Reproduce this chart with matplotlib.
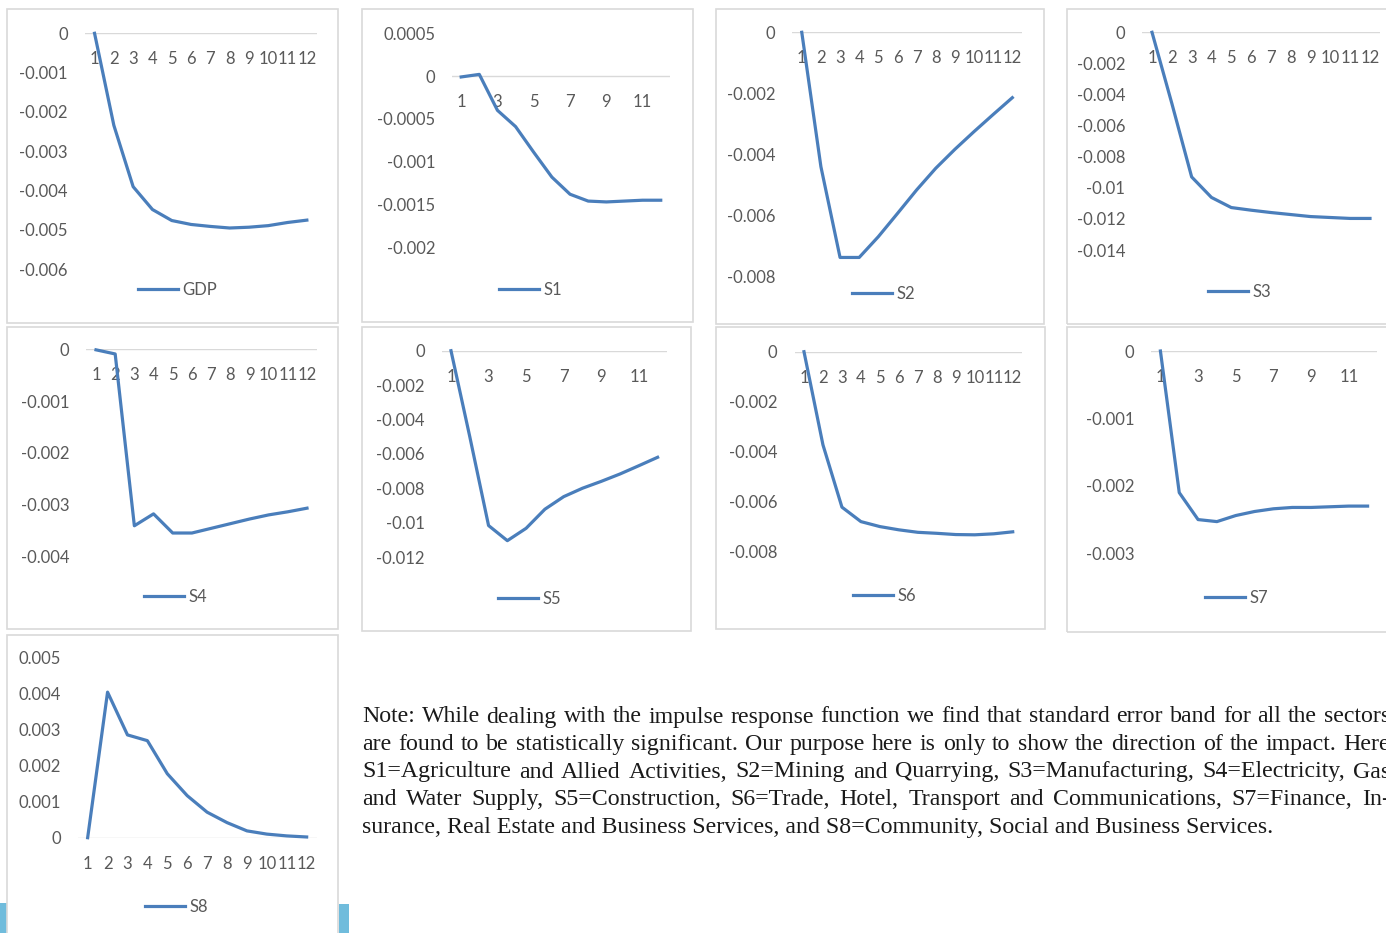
import numpy as np
import matplotlib
matplotlib.use('Agg')
import matplotlib.pyplot as plt
from matplotlib.patches import Rectangle

W, H = 1386, 933
plt.rcParams['font.family'] = ['Lato', 'DejaVu Sans']

# impulse responses, periods 1..12
periods = np.arange(1, 13)
gdp = [0, -0.00234, -0.0039, -0.00448, -0.00476, -0.00486, -0.00491, -0.00495, -0.00493, -0.00489, -0.00481, -0.00475]
s1 = [-0.00001, 0.00002, -0.0004, -0.00059, -0.00089, -0.00118, -0.00138, -0.00146, -0.00147, -0.00146, -0.00145, -0.00145]
s2 = [0, -0.0044, -0.00737, -0.00737, -0.00669, -0.00593, -0.00516, -0.00445, -0.00383, -0.00325, -0.00269, -0.00214]
s3 = [0, -0.00457, -0.0093, -0.01062, -0.01127, -0.01144, -0.01159, -0.01172, -0.01185, -0.01191, -0.01197, -0.01197]
s4 = [-0.00001, -0.00009, -0.00341, -0.00318, -0.00355, -0.00355, -0.00346, -0.00337, -0.00328, -0.0032, -0.00314, -0.00307]
s5 = [0, -0.005, -0.01017, -0.01105, -0.01033, -0.00922, -0.00849, -0.008, -0.0076, -0.00717, -0.00669, -0.0062]
s6 = [0, -0.00374, -0.00624, -0.00682, -0.00702, -0.00715, -0.00725, -0.00729, -0.00734, -0.00735, -0.00731, -0.00723]
s7 = [0, -0.0021, -0.0025, -0.00253, -0.00244, -0.00238, -0.00234, -0.00232, -0.00232, -0.00231, -0.0023, -0.0023]
s8 = [0, 0.00405, 0.00286, 0.0027, 0.00178, 0.00117, 0.00071, 0.00042, 0.00019, 0.0001, 0.00005, 0.00002]

note_lines = [
    "Note: While dealing with the impulse response function we find that standard error band for all the sectors",
    "are found to be statistically significant. Our purpose here is only to show the direction of the impact. Here",
    "S1=Agriculture and Allied Activities, S2=Mining and Quarrying, S3=Manufacturing, S4=Electricity, Gas",
    "and Water Supply, S5=Construction, S6=Trade, Hotel, Transport and Communications, S7=Finance, In-",
    "surance, Real Estate and Business Services, and S8=Community, Social and Business Services.",
]

BLUE = '#4a7ebb'
GREY_TXT = '#595959'
GRID = '#d9d9d9'

# label, series, ylim, ystep, xstep, chart box, plot area, legend anchor (all in px)
panels = [
    ('GDP', gdp, (-0.006, 0), 0.001, 1, (7, 9, 338, 323), (84.9, 33.3, 316.5, 269.3), (138, 290)),
    ('S1', s1, (-0.002, 0.0005), 0.0005, 2, (362, 9, 693, 322), (452.1, 33.3, 669.8, 247.3), (499, 290)),
    ('S2', s2, (-0.008, 0), 0.002, 1, (716, 9, 1044, 324), (792.2, 32.3, 1021.9, 276.7), (852, 294)),
    ('S3', s3, (-0.014, 0), 0.002, 1, (1067, 9, 1400, 324), (1142.1, 32.3, 1379.9, 250), (1208, 292)),
    ('S4', s4, (-0.004, 0), 0.001, 1, (7, 327, 338, 629), (86.4, 349.3, 316.6, 556.3), (144, 597)),
    ('S5', s5, (-0.012, 0), 0.002, 2, (362, 327, 691, 631), (441.6, 350.7, 667, 557), (498, 599)),
    ('S6', s6, (-0.008, 0), 0.002, 1, (716, 327, 1045, 629), (794.5, 351.7, 1022.2, 551), (853, 596)),
    ('S7', s7, (-0.003, 0), 0.001, 2, (1067, 327, 1400, 632), (1151, 351, 1377, 553.3), (1205, 598)),
    ('S8', s8, (0, 0.005), 0.001, 1, (7, 635, 338, 950), (77.7, 658, 316.6, 837.7), (145, 907)),
]

fig = plt.figure(figsize=(W / 100, H / 100), dpi=100)
fig.patch.set_facecolor('white')


def fig_rect(x0, y0, x1, y1, **kw):
    return Rectangle((x0 / W, 1 - y1 / H), (x1 - x0) / W, (y1 - y0) / H,
                     transform=fig.transFigure, **kw)


# light blue strips along the bottom
fig.patches.append(fig_rect(0, 903, 7, 940, fc='#70bcdc', ec='none'))
fig.patches.append(fig_rect(339, 904, 349, 940, fc='#70bcdc', ec='none'))

for name, vals, ylim, ystep, xstep, box, area, leg in panels:
    fig.patches.append(fig_rect(*box, fill=False, ec=GRID, lw=1.2))
    l, t, r, b = area
    ax = fig.add_axes([l / W, 1 - b / H, (r - l) / W, (b - t) / H])
    ax.set_xlim(0.5, 12.5)
    ax.set_ylim(*ylim)
    for sp in ax.spines.values():
        sp.set_visible(False)
    ax.set_facecolor('none')
    ax.axhline(0, color=GRID, lw=1, zorder=1)
    yt = np.arange(ylim[0], ylim[1] + ystep / 2, ystep)
    ax.set_yticks(yt)
    ax.set_yticklabels(['%g' % round(v, 6) if abs(v) > 1e-9 else '0' for v in yt])
    ax.tick_params(axis='y', length=0, pad=12.2, labelsize=12, labelcolor=GREY_TXT)
    ax.set_xticks([])
    for p in periods[::xstep]:
        ax.annotate(str(p), xy=(p, 0), xytext=(0, -26), textcoords='offset pixels',
                    ha='center', va='center', fontsize=12, color=GREY_TXT,
                    annotation_clip=False)
    ax.plot(periods, vals, color=BLUE, lw=2.3, solid_joinstyle='round',
            label=name, clip_on=False, zorder=3)
    ax.legend(loc='center left', bbox_to_anchor=(leg[0] / W, 1 - leg[1] / H),
              bbox_transform=fig.transFigure, frameon=False, borderpad=0,
              borderaxespad=0, handlelength=2.4, handletextpad=0.25,
              fontsize=12, labelcolor=GREY_TXT)

# justified note text
renderer = fig.canvas.get_renderer()
note_kw = dict(fontfamily='Liberation Serif', fontsize=17.2, color='#1a1a1a', va='baseline')
x_left, x_right = 362, 1390
for i, line in enumerate(note_lines):
    y = 722.5 + i * 27.5
    if i == len(note_lines) - 1:
        fig.text(x_left / W, 1 - y / H, line, **note_kw)
        continue
    words = line.split()
    texts = [fig.text(0, 1 - y / H, w, **note_kw) for w in words]
    widths = [tx.get_window_extent(renderer).width for tx in texts]
    gap = (x_right - x_left - sum(widths)) / (len(words) - 1)
    x = x_left
    for tx, w in zip(texts, widths):
        tx.set_x(x / W)
        x += w + gap

fig.savefig('out.png', dpi=100)
